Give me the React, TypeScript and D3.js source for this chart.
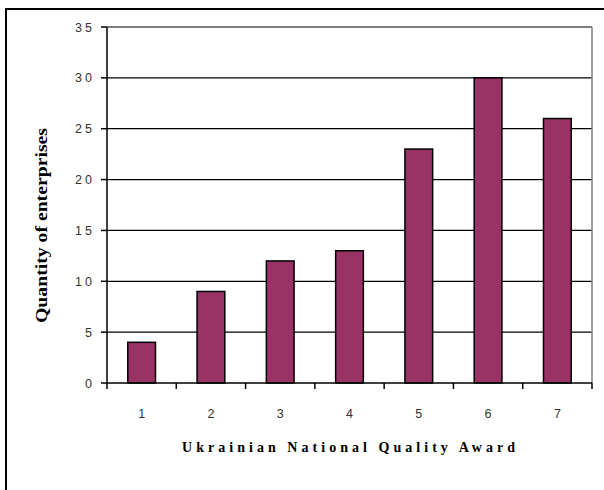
import React from "react";
import * as d3 from "d3";

const categories = ["1", "2", "3", "4", "5", "6", "7"];
const values = [4, 9, 12, 13, 23, 30, 26];
const yTicks = [0, 5, 10, 15, 20, 25, 30, 35];
const xTitle = "Ukrainian National Quality Award";
const yTitle = "Quantity of enterprises";

export default function App() {
  const W = 604, H = 490;
  const left = 107, right = 592, top = 27, bottom = 383;
  const x = d3.scaleBand().domain(categories).range([left, right]).paddingInner(0.6).paddingOuter(0.3);
  const xb = d3.scaleBand().domain(categories).range([left, right]);
  const y = d3.scaleLinear().domain([0, 35]).range([bottom, top]);
  return (
    <svg width={W} height={H} style={{ position: "absolute", left: 0, top: 0, background: "#fff" }}>
      <rect x={0} y={0} width={W} height={H} fill="#fff" />
      <rect x={6} y={9} width={W + 20} height={H + 20} fill="none" stroke="#000" strokeWidth={2} />
      {yTicks.filter(t => t > 0 && t < 35).map(t => (
        <line key={t} x1={left} x2={right} y1={y(t)} y2={y(t)} stroke="#000" strokeWidth={1.3} />
      ))}
      <line x1={left} x2={right} y1={y(35)} y2={y(35)} stroke="#808080" strokeWidth={2} />
      <line x1={right} x2={right} y1={top} y2={bottom} stroke="#808080" strokeWidth={1.5} />
      {values.map((v, i) => (
        <rect key={i} x={x(categories[i])!} y={y(v)} width={x.bandwidth()} height={bottom - y(v)}
          fill="#993366" stroke="#000" strokeWidth={1.5} />
      ))}
      <line x1={left} x2={left} y1={top} y2={bottom} stroke="#000" strokeWidth={1.5} />
      <line x1={left} x2={right} y1={bottom} y2={bottom} stroke="#000" strokeWidth={1.5} />
      {yTicks.map(t => (
        <g key={t}>
          <line x1={left - 6} x2={left} y1={y(t)} y2={y(t)} stroke="#000" strokeWidth={1.5} />
          <text x={95} y={y(t) + 4.5} textAnchor="end" fontFamily="Liberation Sans, Arial, sans-serif"
            fontSize={12.5} fill="#333" letterSpacing={3}>{String(t)}</text>
        </g>
      ))}
      {categories.map((c, i) => (
        <line key={"t" + i} x1={xb(c)!} x2={xb(c)!} y1={bottom} y2={bottom + 6} stroke="#000" strokeWidth={1.5} />
      ))}
      <line x1={right} x2={right} y1={bottom} y2={bottom + 6} stroke="#000" strokeWidth={1.5} />
      {categories.map((c) => (
        <text key={"l" + c} x={x(c)! + x.bandwidth() / 2} y={418} textAnchor="middle"
          fontFamily="Liberation Sans, Arial, sans-serif" fontSize={12.5} fill="#333">{c}</text>
      ))}
      <text x={348.5} y={452} textAnchor="middle" fontFamily="Liberation Serif, Times New Roman, serif"
        fontWeight="bold" fontSize={14} textLength={333} lengthAdjust="spacing" fill="#000">{xTitle}</text>
      <text transform={`translate(47,225.5) rotate(-90)`} textAnchor="middle"
        fontFamily="Liberation Serif, Times New Roman, serif" fontWeight="bold" fontSize={16}
        textLength={195} lengthAdjust="spacingAndGlyphs" fill="#000">{yTitle}</text>
    </svg>
  );
}
